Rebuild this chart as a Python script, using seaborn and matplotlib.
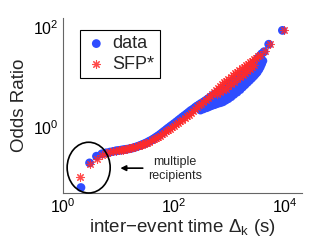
import numpy as np
import pandas as pd
import matplotlib
matplotlib.use("Agg")
import matplotlib.pyplot as plt
from matplotlib.patches import Ellipse
import seaborn as sns

# ---------------- data ----------------
blue_x = [2.1, 3, 4, 5, 6, 7, 8, 9, 10, 11, 12, 13, 14, 15.5, 17, 18.5, 20, 22, 24,
          26, 28, 30.5, 33, 36, 40, 43, 47, 51, 56, 61, 66, 72, 78, 85, 92, 100,
          110, 120, 130, 142, 155, 170, 185, 200, 220, 240, 260, 285, 310, 340,
          370, 405, 440, 480, 520, 570, 620, 680, 740, 810, 880, 960, 1050, 1150,
          1250, 1370, 1500, 1650, 1800, 1970, 2150, 2350, 2550, 2780, 3000, 3250,
          3500, 3800, 4200, 5100, 9000]
blue_y = [0.063, 0.195, 0.265, 0.295, 0.31, 0.32, 0.33, 0.34, 0.345, 0.35, 0.355,
          0.36, 0.365, 0.372, 0.38, 0.39, 0.40, 0.415, 0.43, 0.445, 0.46, 0.48,
          0.50, 0.53, 0.56, 0.59, 0.63, 0.67, 0.72, 0.775, 0.83, 0.895, 0.96, 1.03,
          1.1, 1.18, 1.28, 1.38, 1.48, 1.6, 1.72, 1.86, 2.0, 2.15, 2.3, 2.48, 2.65,
          2.82, 3.0, 3.2, 3.4, 3.65, 3.9, 4.15, 4.4, 4.7, 5.0, 5.35, 5.7, 6.15, 6.6,
          7.1, 7.7, 8.3, 8.9, 9.6, 10.3, 11.1, 12, 13.2, 14.5, 16, 17.5, 19.2, 21,
          23.5, 26, 29, 32, 45, 85]
# spread of the data band at large inter-event times
blue_mid_x = [500, 600, 680, 760, 850, 950, 1070, 1200, 1370, 1550, 1720, 1900,
              2100, 2300, 2520, 2750, 2950, 3160]
blue_mid_y = [3.5, 3.9, 4.1, 4.3, 4.65, 5.0, 5.5, 6.1, 6.8, 7.6, 8.4, 9.3, 10.3,
              11.3, 12.5, 13.8, 15.1, 16.5]
blue_low_x = [300, 340, 390, 430, 480, 540, 600, 680, 760, 850, 950, 1070, 1200,
              1370, 1550, 1720, 1900, 2100, 2300, 2520, 2750, 2950, 3160, 3400,
              3600, 3800, 4000]
blue_low_y = [2.2, 2.32, 2.45, 2.57, 2.7, 2.82, 2.95, 3.07, 3.2, 3.45, 3.7, 4.05,
              4.5, 5.0, 5.6, 6.3, 7.0, 7.8, 8.6, 9.5, 10.5, 11.5, 12.5, 14.2, 16,
              18.3, 21]

red_x = [2.0, 3.0, 4.1, 5, 6, 7, 8, 9, 10, 11, 12, 13, 14, 15.5, 17, 18.5, 20, 22,
         24, 26, 28, 30.5, 33, 36, 40, 43, 47, 51, 56, 61, 66, 72, 78, 85, 92, 100,
         110, 120, 130, 142, 155, 170, 185, 200, 220, 240, 260, 285, 310, 340, 370,
         405, 440, 480, 520, 570, 620, 680, 740, 810, 880, 960, 1050, 1150, 1250,
         1370, 1500, 1650, 1800, 1970, 2150, 2350, 2550, 2780, 3000, 3250, 3500,
         4400, 5400, 9500]
red_y = [0.10, 0.185, 0.23, 0.28, 0.305, 0.32, 0.335, 0.343, 0.35, 0.355, 0.36,
         0.367, 0.375, 0.382, 0.39, 0.40, 0.41, 0.422, 0.435, 0.447, 0.46, 0.477,
         0.495, 0.52, 0.55, 0.58, 0.61, 0.645, 0.68, 0.725, 0.77, 0.825, 0.88, 0.94,
         1.0, 1.07, 1.15, 1.23, 1.32, 1.42, 1.52, 1.65, 1.78, 1.93, 2.1, 2.3, 2.5,
         2.72, 2.95, 3.22, 3.5, 3.85, 4.2, 4.6, 5.0, 5.5, 6.0, 6.6, 7.2, 7.85, 8.5,
         9.2, 10, 10.9, 11.8, 12.8, 13.8, 14.9, 16, 17.2, 18.5, 19.7, 21, 22.5, 24,
         26, 28, 33, 45, 85]
red_low_x = [600, 680, 760, 850, 950, 1070, 1200, 1370, 1550, 1720, 1900, 2100,
             2300, 2520, 2750]
red_low_y = [4.6, 5.0, 5.4, 5.9, 6.5, 7.2, 8.0, 9.0, 10, 11, 12, 13.2, 14.5, 16,
             17.5]

x_ticks = [1, 100, 10000]
y_ticks = [1, 100]

# ---------------- style ----------------
sns.set_theme(style="white")
plt.rcParams["font.family"] = ["Liberation Sans", "DejaVu Sans"]
plt.rcParams["mathtext.fontset"] = "custom"
plt.rcParams["mathtext.rm"] = "Liberation Sans"
plt.rcParams["mathtext.it"] = "Liberation Sans:italic"
plt.rcParams["mathtext.default"] = "regular"

blue = "#2f4cff"
red = "#ff2a2a"

df_blue = pd.DataFrame({"x": blue_x + blue_mid_x + blue_low_x,
                        "y": blue_y + blue_mid_y + blue_low_y})
df_red = pd.DataFrame({"x": red_x + red_low_x, "y": red_y + red_low_y})

fig = plt.figure(figsize=(3.32, 2.5), dpi=100)
ax = fig.add_axes([0.19, 0.228, 0.72, 0.70])

sns.scatterplot(data=df_blue, x="x", y="y", color=blue, s=40, edgecolor="none",
                label="data", ax=ax, zorder=2)
sns.scatterplot(data=df_red, x="x", y="y", color=red, marker=(8, 2, 0), s=30,
                linewidth=0.8, alpha=0.85, label="SFP*", ax=ax, zorder=3)

ax.set_xscale("log")
ax.set_yscale("log")
ax.set_xlim(1, 20400)
ax.set_ylim(0.049, 150)
ax.set_xticks(x_ticks)
ax.set_yticks(y_ticks)
ax.minorticks_off()
ax.tick_params(direction="in", length=3, width=0.8, colors="#555555",
               labelcolor="black", labelsize=11.5, pad=3)

for s in ["top", "right"]:
    ax.spines[s].set_visible(False)
for s in ["left", "bottom"]:
    ax.spines[s].set_color("#666666")
    ax.spines[s].set_linewidth(0.8)

ax.set_xlabel("inter\u2212event time $\\Delta_k$ (s)", fontsize=13.5, labelpad=1)
ax.set_ylabel("Odds Ratio", fontsize=13.5, labelpad=4)

leg = ax.legend(loc="upper left", bbox_to_anchor=(0.071, 0.932), frameon=True,
                fancybox=False, edgecolor="black", fontsize=13, handletextpad=0.3,
                borderpad=0.3, labelspacing=0.2, handlelength=1.2, markerscale=1.0,
                borderaxespad=0)
leg.get_frame().set_linewidth(0.8)
leg.get_frame().set_alpha(1)

ell = Ellipse((0.107, 0.145), 0.18, 0.29, transform=ax.transAxes, fill=False,
              edgecolor="black", linewidth=1.2, clip_on=False, zorder=4)
ax.add_patch(ell)
ax.annotate("", xy=(0.228, 0.142), xytext=(0.345, 0.142), xycoords="axes fraction",
            arrowprops=dict(arrowstyle="-|>", color="black", lw=1.2, mutation_scale=8))
ax.text(0.469, 0.176, "multiple", transform=ax.transAxes, ha="center", va="center",
        fontsize=9)
ax.text(0.469, 0.097, "recipients", transform=ax.transAxes, ha="center", va="center",
        fontsize=9)

fig.savefig("out.png", dpi=100)
